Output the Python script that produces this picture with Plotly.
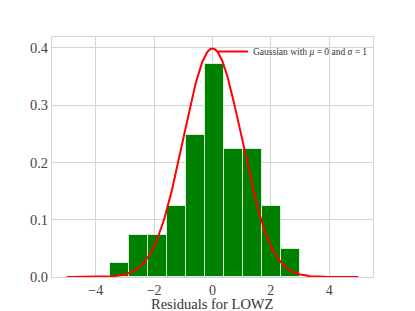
import numpy as np
import plotly.graph_objects as go

# Histogram of residuals (density-normalised)
bin_edges = [-3.52, -2.867, -2.214, -1.561, -0.908, -0.255, 0.398, 1.051, 1.704, 2.357, 3.01]
densities = [0.0247, 0.0742, 0.0742, 0.1237, 0.2474, 0.3711, 0.2227, 0.2227, 0.1237, 0.0495]

# Reference Gaussian
MU = 0.0
SIGMA = 1.0
x_min, x_max = -5.0, 5.0

x_ticks = [-4, -2, 0, 2, 4]
x_tick_labels = ["\u22124", "\u22122", "0", "2", "4"]
y_ticks = [0.0, 0.1, 0.2, 0.3, 0.4]
y_tick_labels = ["0.0", "0.1", "0.2", "0.3", "0.4"]

legend_label = "Gaussian with <i>\u03bc</i> = 0 and <i>\u03c3</i> = 1"
x_title = "Residuals for LOWZ"

centers = [(a + b) / 2 for a, b in zip(bin_edges[:-1], bin_edges[1:])]
widths = [b - a for a, b in zip(bin_edges[:-1], bin_edges[1:])]

xg = np.linspace(x_min, x_max, 400)
yg = np.exp(-0.5 * ((xg - MU) / SIGMA) ** 2) / (SIGMA * np.sqrt(2 * np.pi))

font_family = "Liberation Serif, DejaVu Serif, serif"
grid_col = "#d5d5d5"

fig = go.Figure()
fig.add_trace(go.Bar(
    x=centers, y=densities, width=widths,
    marker=dict(color="#008000", line=dict(color="#d8ecd8", width=1)),
    showlegend=False, hoverinfo="skip",
))
fig.add_trace(go.Scatter(
    x=xg, y=yg, mode="lines",
    line=dict(color="#ff0000", width=2),
    name=legend_label,
))

fig.add_annotation(
    text=x_title, xref="paper", yref="paper", x=0.5, y=0,
    xanchor="center", yanchor="top", yshift=-17, showarrow=False,
    font=dict(size=14.5, color="#333333", family=font_family),
)

fig.update_layout(
    width=415, height=311,
    margin=dict(l=52, r=42, t=37, b=34, autoexpand=False),
    paper_bgcolor="white", plot_bgcolor="white",
    font=dict(family=font_family, color="#444444"),
    bargap=0,
    legend=dict(
        x=1.0, y=1.0, xanchor="right", yanchor="top",
        bgcolor="rgba(0,0,0,0)",
        font=dict(size=9.5, family=font_family, color="#333333"),
        itemwidth=30,
        tracegroupgap=0,
    ),
    xaxis=dict(
        range=[-5.5, 5.5],
        tickvals=x_ticks, ticktext=x_tick_labels,
        tickfont=dict(size=14, color="#444444"),
        showgrid=True, gridcolor=grid_col, gridwidth=1,
        zeroline=False, automargin=False,
        showline=True, linecolor=grid_col, linewidth=1, mirror=True,
        ticks="", ticklen=0,
    ),
    yaxis=dict(
        range=[0, 0.419],
        tickvals=y_ticks, ticktext=y_tick_labels,
        tickfont=dict(size=14.5, color="#444444"),
        showgrid=True, gridcolor=grid_col, gridwidth=1,
        zeroline=False, automargin=False,
        showline=True, linecolor=grid_col, linewidth=1, mirror=True,
        ticks="",
    ),
)

fig.write_html("out.html", post_script="document.body.style.margin='0';",
               config={"displayModeBar": False})
